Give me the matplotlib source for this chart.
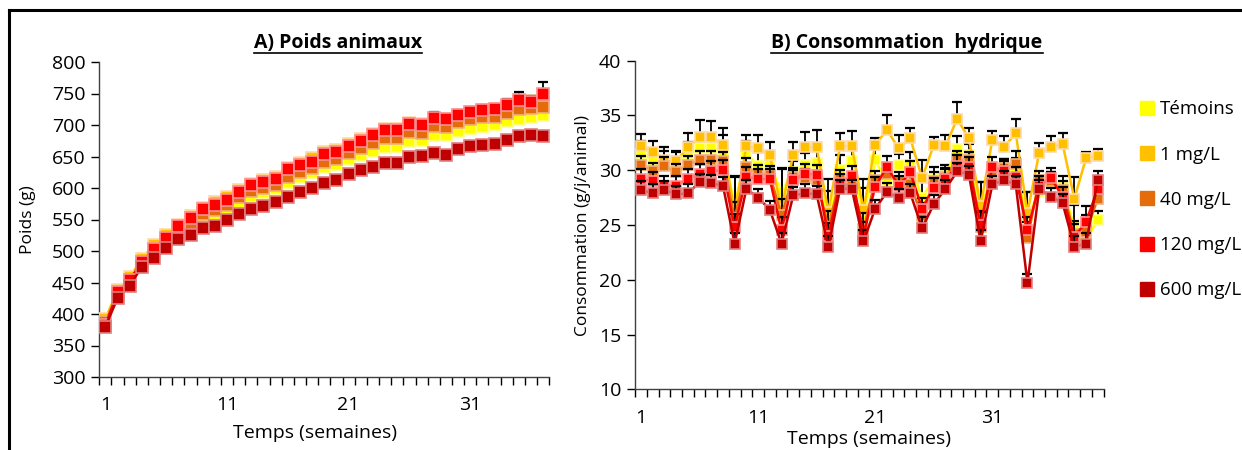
import matplotlib
matplotlib.use("Agg")
import matplotlib.pyplot as plt
from matplotlib.lines import Line2D
import numpy as np

plt.rcParams['font.family'] = ['Open Sans', 'DejaVu Sans']

labels = ["Témoins", "1 mg/L", "40 mg/L", "120 mg/L", "600 mg/L"]
colors = ["#FFFF00", "#FFC000", "#E46C0A", "#FF0000", "#C00000"]
edges = ["#FFFF80", "#FFD9A8", "#F2B080", "#FF9090", "#E08080"]

# A) Poids animaux (g), semaines 1..37
poids_temoins = [385, 432, 450, 478, 497, 512, 527, 538, 550, 557, 566, 576, 588, 594, 600,
                 610, 618, 625, 633, 638, 646, 652, 659, 665, 667, 674, 676, 684, 684, 690,
                 695, 698, 701, 706, 709, 713, 716]
poids_1 = [392, 438, 458, 488, 510, 525, 541, 555, 569, 577, 585, 597, 607, 613, 618,
           631, 640, 648, 657, 661, 670, 678, 686, 693, 694, 703, 701, 710, 708, 714,
           718, 721, 722, 728, 737, 738, 735]
poids_40 = [388, 430, 452, 482, 502, 517, 532, 545, 558, 565, 573, 585, 595, 600, 604,
            618, 625, 632, 642, 646, 655, 663, 671, 679, 680, 689, 688, 698, 697, 704,
            709, 712, 713, 719, 726, 727, 729]
poids_120 = [382, 435, 454, 483, 503, 521, 539, 552, 566, 573, 581, 594, 605, 610, 614,
             630, 637, 642, 654, 657, 667, 675, 684, 692, 692, 702, 700, 711, 709, 716,
             721, 724, 725, 732, 740, 736, 750]
poids_600 = [380, 425, 445, 475, 489, 505, 519, 525, 536, 540, 550, 558, 566, 571, 577,
             586, 593, 600, 608, 613, 622, 628, 634, 639, 639, 649, 651, 656, 652, 662,
             666, 668, 670, 676, 683, 684, 682]
err_poids_temoins = [3, 4, 4, 4, 4, 4, 5, 5, 5, 5, 5, 5, 5, 5, 5, 5, 5, 5, 5, 5, 5, 5, 5,
                     5, 5, 6, 6, 6, 6, 6, 6, 6, 6, 6, 6, 7, 7]
err_poids_1 = [3, 4, 4, 4, 4, 4, 4, 5, 5, 5, 5, 5, 5, 5, 5, 5, 5, 5, 5, 5, 6, 6, 6,
               6, 6, 6, 6, 7, 7, 7, 7, 7, 7, 7, 8, 8, 9]
err_poids_40 = [3, 3, 4, 4, 4, 4, 4, 4, 4, 5, 5, 5, 5, 5, 5, 5, 5, 5, 5, 5, 5, 5, 5,
                5, 5, 6, 6, 6, 6, 6, 6, 6, 6, 7, 7, 7, 8]
err_poids_120 = [3, 4, 4, 4, 4, 4, 4, 4, 5, 5, 5, 5, 5, 5, 5, 5, 5, 5, 5, 5, 6, 6, 6,
                 6, 6, 7, 7, 10, 9, 8, 8, 8, 9, 9, 12, 10, 18]
err_poids_600 = [3, 3, 3, 3, 3, 3, 3, 4, 4, 4, 4, 4, 4, 4, 4, 4, 4, 4, 4, 4, 4, 5, 5,
                 5, 5, 5, 5, 5, 5, 5, 5, 5, 5, 5, 6, 6, 6]

# B) Consommation hydrique (g/j/animal), semaines 1..40
conso_temoins = [31.5, 30.9, 30.6, 30.7, 31.5, 32.0, 32.0, 31.8, 26.8, 31.5,
                 30.4, 30.5, 28.0, 29.8, 30.5, 30.7, 25.5, 30.0, 30.8, 25.8,
                 30.9, 29.0, 30.5, 30.5, 27.5, 29.2, 29.5, 31.9, 31.4, 26.5,
                 29.6, 30.0, 29.9, 25.8, 28.0, 28.7, 28.5, 24.8, 23.6, 25.5]
conso_1 = [32.2, 31.7, 30.9, 30.8, 32.1, 33.0, 33.0, 32.3, 26.2, 32.2,
           32.0, 31.4, 26.5, 31.4, 32.1, 32.1, 26.2, 32.2, 32.2, 26.4,
           32.3, 33.7, 32.0, 32.9, 29.3, 32.3, 32.2, 34.7, 32.9, 26.7,
           32.8, 32.1, 33.4, 26.1, 31.6, 32.1, 32.4, 27.4, 31.1, 31.3]
conso_40 = [30.5, 29.9, 30.4, 29.8, 30.5, 30.9, 30.9, 30.8, 25.6, 30.3,
            29.7, 29.6, 25.9, 29.4, 29.3, 29.1, 24.8, 29.2, 28.8, 24.6,
            29.1, 29.7, 29.0, 28.7, 25.8, 29.0, 29.4, 31.0, 30.9, 24.8,
            29.8, 30.2, 30.6, 23.8, 29.1, 29.0, 28.2, 24.2, 24.4, 27.4]
conso_120 = [29.2, 29.0, 28.6, 28.6, 29.2, 29.7, 29.9, 30.0, 24.8, 29.4,
             29.2, 29.2, 24.5, 29.1, 29.7, 29.6, 24.0, 28.8, 29.5, 24.1,
             28.5, 30.3, 28.6, 29.8, 26.5, 28.4, 29.2, 30.4, 30.3, 25.0,
             30.3, 29.9, 29.4, 24.5, 28.6, 29.3, 27.6, 23.9, 25.3, 28.3]
conso_600 = [28.2, 27.9, 28.2, 27.8, 27.9, 28.9, 28.8, 28.6, 23.3, 28.3,
             27.5, 26.4, 23.3, 27.7, 27.9, 27.8, 23.0, 28.3, 28.3, 23.5,
             26.5, 28.0, 27.5, 27.9, 24.7, 26.9, 28.3, 29.9, 29.6, 23.5,
             28.7, 29.1, 28.7, 19.7, 28.3, 27.6, 27.0, 23.0, 23.3, 29.1]
err_conso_temoins = [1.2, 1.0, 1.2, 1.0, 1.1, 1.3, 1.3, 1.4, 2.7, 1.2,
                     1.3, 1.2, 2.2, 1.0, 1.1, 1.3, 2.6, 1.4, 1.3, 2.6,
                     1.0, 1.5, 1.0, 1.2, 2.0, 1.1, 1.0, 1.2, 1.0, 2.4,
                     1.0, 1.0, 1.2, 2.2, 1.0, 1.1, 1.0, 2.0, 2.3, 0.8]
err_conso_1 = [1.1, 1.0, 1.2, 1.0, 1.3, 1.6, 1.5, 1.6, 3.2, 1.0,
               1.2, 1.2, 3.6, 1.2, 1.4, 1.6, 3.0, 1.2, 1.4, 2.8,
               0.6, 1.3, 1.2, 1.0, 1.6, 0.7, 1.0, 1.5, 1.0, 2.2,
               0.8, 1.0, 1.3, 1.9, 0.9, 1.0, 1.0, 2.0, 0.6, 0.6]
err_conso_40 = [0.8, 0.8, 0.8, 0.8, 0.8, 0.9, 0.9, 0.9, 1.5, 0.8,
                0.8, 0.8, 1.5, 0.8, 0.8, 0.8, 1.5, 0.8, 0.8, 1.5,
                0.8, 0.8, 0.8, 0.8, 1.2, 0.8, 0.8, 0.8, 0.8, 1.5,
                0.8, 0.8, 1.2, 1.5, 0.8, 0.8, 0.8, 1.2, 1.2, 0.8]
err_conso_120 = [0.9, 0.8, 0.9, 0.9, 0.9, 0.9, 0.9, 0.9, 1.2, 0.9,
                 0.9, 0.9, 1.2, 0.9, 0.9, 0.9, 1.2, 0.9, 0.9, 1.2,
                 0.9, 1.0, 0.9, 1.0, 1.0, 0.9, 0.9, 1.0, 0.9, 1.2,
                 0.9, 0.9, 0.9, 1.2, 0.9, 0.9, 0.9, 1.2, 1.4, 0.9]
err_conso_600 = [0.8, 0.8, 0.8, 0.8, 0.8, 0.8, 0.8, 0.8, 1.0, 0.8,
                 0.8, 0.8, 1.0, 0.8, 0.8, 0.8, 1.0, 0.8, 0.8, 1.0,
                 0.8, 0.8, 0.8, 0.8, 1.0, 0.8, 0.8, 0.8, 0.8, 1.0,
                 0.8, 0.8, 0.8, 0.8, 0.8, 0.8, 0.8, 1.0, 1.0, 0.8]

poids = [poids_temoins, poids_1, poids_40, poids_120, poids_600]
err_poids = [err_poids_temoins, err_poids_1, err_poids_40, err_poids_120, err_poids_600]
conso = [conso_temoins, conso_1, conso_40, conso_120, conso_600]
err_conso = [err_conso_temoins, err_conso_1, err_conso_40, err_conso_120, err_conso_600]

W, H = 1242, 450
fig = plt.figure(figsize=(W / 100, H / 100), dpi=100)

def px_axes(x0, x1, y0, y1):
    return fig.add_axes([x0 / W, 1 - y1 / H, (x1 - x0) / W, (y1 - y0) / H])

def draw(ax, series, errs, ms):
    for k, (vals, err) in enumerate(zip(series, errs)):
        x = np.arange(1, len(vals) + 1)
        ax.errorbar(x, vals, yerr=[np.zeros(len(err)), err], fmt="none",
                    ecolor="black", elinewidth=1.3, capsize=3.5, capthick=1.6,
                    zorder=2 + 2 * k)
        ax.plot(x, vals, color=colors[k], lw=1.8, marker="s", ms=ms,
                mfc=colors[k], mec=edges[k], mew=1.2, zorder=3 + 2 * k)
    n = len(series[0])
    ax.set_xlim(0.5, n + 0.5)
    ax.set_xticks([1, 11, 21, 31])
    ax.set_xticks(np.arange(0.5, n + 1), minor=True)
    ax.tick_params(axis="x", which="major", length=0, pad=14, labelsize=14)
    ax.tick_params(axis="x", which="minor", length=6, direction="out", width=1)
    ax.tick_params(axis="y", length=6, width=1, direction="out", labelsize=14, pad=4)
    for s in ["top", "right"]:
        ax.spines[s].set_visible(False)
    for s in ["left", "bottom"]:
        ax.spines[s].set_color("#404040")
        ax.spines[s].set_linewidth(1)

ax1 = px_axes(99.3, 549.3, 62, 377)
draw(ax1, poids, err_poids, 8.5)
ax1.set_ylim(300, 800)
ax1.set_yticks(np.arange(300, 801, 50))
ax1.set_ylabel("Poids (g)", fontsize=12.5)
ax1.yaxis.set_label_coords(-0.141, 0.5)
ax1.set_xlabel("Temps (semaines)", fontsize=14)
ax1.xaxis.set_label_coords(0.48, -0.15)

ax2 = px_axes(635.1, 1103.6, 60.7, 389.3)
draw(ax2, conso, err_conso, 7.2)
ax2.set_ylim(10, 40)
ax2.set_yticks(np.arange(10, 41, 5))
ax2.set_ylabel("Consommation (g/j/animal)", fontsize=12.5)
ax2.yaxis.set_label_coords(-0.094, 0.5)
ax2.set_xlabel("Temps (semaines)", fontsize=14)
ax2.xaxis.set_label_coords(0.5, -0.125)

# underlined bold titles
renderer = fig.canvas.get_renderer()
for txt, cx in [("A) Poids animaux", 338), ("B) Consommation  hydrique", 907)]:
    t = fig.text(cx / W, 1 - 43 / H, txt, ha="center", va="center",
                 fontsize=14, fontweight="bold")
    bb = t.get_window_extent(renderer)
    yline = (bb.y0 + 0.5) / H
    fig.add_artist(Line2D([bb.x0 / W, bb.x1 / W], [yline, yline],
                          color="black", lw=1.2))

handles = [Line2D([], [], ls="none", marker="s", ms=9.5, mfc=c, mec=c)
           for c in colors]
fig.legend(handles, labels, loc="upper left", bbox_to_anchor=(1128 / W, 1 - 93 / H),
           frameon=False, fontsize=13.5, labelspacing=1.45, handletextpad=0.1,
           handlelength=1.2, borderaxespad=0)

# frame of the surrounding box (partly cropped)
fig.add_artist(Line2D([9 / W, 1], [1 - 10 / H, 1 - 10 / H], color="black", lw=2.2))
fig.add_artist(Line2D([9 / W, 9 / W], [0, 1 - 10 / H], color="black", lw=2.2))

fig.savefig("out.png", dpi=100)
